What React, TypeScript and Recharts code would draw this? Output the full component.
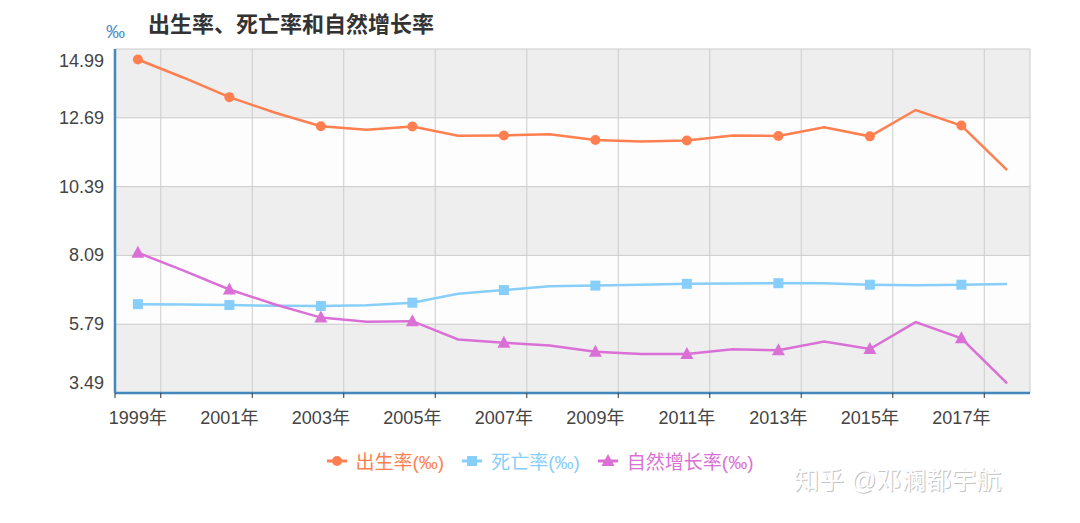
import React from 'react';
import {
  LineChart,
  Line,
  XAxis,
  YAxis,
  CartesianGrid,
  Legend,
} from 'recharts';

const years = [
  '1999', '2000', '2001', '2002', '2003', '2004', '2005', '2006', '2007', '2008',
  '2009', '2010', '2011', '2012', '2013', '2014', '2015', '2016', '2017', '2018',
];
const birthRate = [
  14.64, 14.03, 13.38, 12.86, 12.41, 12.29, 12.4, 12.09, 12.1, 12.14,
  11.95, 11.9, 11.93, 12.1, 12.08, 12.37, 12.07, 12.95, 12.43, 10.94,
];
const deathRate = [
  6.46, 6.45, 6.43, 6.41, 6.4, 6.42, 6.51, 6.81, 6.93, 7.06,
  7.08, 7.11, 7.14, 7.15, 7.16, 7.16, 7.11, 7.09, 7.11, 7.13,
];
const growthRate = [
  8.18, 7.58, 6.95, 6.45, 6.01, 5.87, 5.89, 5.28, 5.17, 5.08,
  4.87, 4.79, 4.79, 4.95, 4.92, 5.21, 4.96, 5.86, 5.32, 3.81,
];
const yTicks = [3.49, 5.79, 8.09, 10.39, 12.69, 14.99];

const series = [
  { key: 'birth', name: '出生率(‰)', color: '#ff7f50', shape: 'circle' },
  { key: 'death', name: '死亡率(‰)', color: '#87cefa', shape: 'square' },
  { key: 'growth', name: '自然增长率(‰)', color: '#da70d6', shape: 'triangle' },
];

const data = years.map((y, i) => ({
  year: y,
  birth: birthRate[i],
  death: deathRate[i],
  growth: growthRate[i],
}));

const W = 1080;
const H = 523;
const margin = { top: 49, right: 50, bottom: 100, left: 0 };
const yAxisWidth = 115;
const plotWidth = W - margin.left - margin.right - yAxisWidth;
const step = plotWidth / years.length;
const font = '"Liberation Sans", Arial, "Noto Sans CJK SC", sans-serif';
const axisBlue = '#4488bb';

function Marker({ shape, color, cx, cy }: { shape: string; color: string; cx: number; cy: number }) {
  if (shape === 'circle') return <circle cx={cx} cy={cy} r={5} fill={color} />;
  if (shape === 'square') return <rect x={cx - 5} y={cy - 5} width={10} height={10} fill={color} />;
  return (
    <polygon
      points={`${cx},${cy - 7} ${cx + 6.5},${cy + 5} ${cx - 6.5},${cy + 5}`}
      fill={color}
    />
  );
}

const makeDot = (shape: string, color: string) => (props: any) => {
  const { cx, cy, index } = props;
  if (index % 2 !== 0 || cx == null || cy == null) return <g key={`d-${index}`} />;
  return (
    <g key={`d-${index}`}>
      <Marker shape={shape} color={color} cx={cx} cy={cy} />
    </g>
  );
};

const XTick = (props: any) => {
  const { x, y, payload, index } = props;
  const axisY = y - 8;
  return (
    <g>
      <line x1={x + step / 2} x2={x + step / 2} y1={axisY} y2={axisY + 5} stroke="#333" strokeWidth={1} />
      {index === 0 && (
        <line x1={x - step / 2} x2={x - step / 2} y1={axisY} y2={axisY + 5} stroke="#333" strokeWidth={1} />
      )}
      <text x={x} y={y + 23} textAnchor="middle" fill="#444" fontSize={18} fontFamily={font}>
        {payload.value}年
      </text>
    </g>
  );
};

const YTick = (props: any) => {
  const { x, y, payload, index } = props;
  let shift = 0;
  if (index === 0) shift = -10;
  if (index === yTicks.length - 1) shift = 12;
  return (
    <text x={x - 3} y={y + shift + 6} textAnchor="end" fill="#444" fontSize={18} fontFamily={font}>
      {payload.value.toFixed(2)}
    </text>
  );
};

const LegendContent = () => (
  <div
    style={{
      display: 'flex',
      justifyContent: 'center',
      alignItems: 'center',
      gap: 18,
      fontFamily: font,
      fontSize: 19,
    }}
  >
    {series.map((s) => (
      <div key={s.key} style={{ display: 'flex', alignItems: 'center', gap: 9, color: s.color }}>
        <svg width={20} height={16}>
          <line x1={0} x2={20} y1={8} y2={8} stroke={s.color} strokeWidth={3} />
          <Marker shape={s.shape} color={s.color} cx={10} cy={8} />
        </svg>
        <span>{s.name}</span>
      </div>
    ))}
  </div>
);

export default function App() {
  return (
    <div style={{ position: 'absolute', left: 0, top: 0, width: W, height: H, background: '#fff' }}>
      <LineChart width={W} height={H} data={data} margin={margin}>
        <CartesianGrid
          stroke="#cccccc"
          horizontalFill={['#eeeeee', '#fdfdfd']}
          fillOpacity={1}
          verticalCoordinatesGenerator={({ offset }: any) => {
            const pts: number[] = [];
            const s = offset.width / years.length;
            for (let i = 1; i < years.length; i += 2) pts.push(offset.left + i * s);
            pts.push(offset.left + offset.width);
            return pts;
          }}
        />
        <XAxis
          dataKey="year"
          interval={1}
          padding={{ left: step / 2, right: step / 2 }}
          axisLine={{ stroke: axisBlue, strokeWidth: 2.5 }}
          tickLine={false}
          tick={<XTick />}
          height={30}
        />
        <YAxis
          type="number"
          domain={[3.49, 14.99]}
          ticks={yTicks}
          width={yAxisWidth}
          axisLine={{ stroke: axisBlue, strokeWidth: 2.5 }}
          tickLine={false}
          tick={<YTick />}
        />
        <Legend
          verticalAlign="middle"
          align="center"
          content={<LegendContent />}
          wrapperStyle={{ top: 447, left: 0, width: W }}
        />
        {series.map((s) => (
          <Line
            key={s.key}
            type="linear"
            dataKey={s.key}
            name={s.name}
            stroke={s.color}
            strokeWidth={2.5}
            dot={makeDot(s.shape, s.color)}
            activeDot={false}
            isAnimationActive={false}
          />
        ))}
      </LineChart>
      <svg
        width={W}
        height={H}
        style={{ position: 'absolute', left: 0, top: 0, pointerEvents: 'none' }}
      >
        <text x={106} y={38} fontSize={19} fill="#4a90c8" fontFamily={font}>
          ‰
        </text>
        <text x={148} y={32} fontSize={22} fontWeight="bold" fill="#333" fontFamily={font}>
          出生率、死亡率和自然增长率
        </text>
        <text x={795} y={490} fontSize={25} fill="#c4c4c4" fontFamily={font}>
          知乎 @邓澜都宇航
        </text>
        <text x={794} y={489} fontSize={25} fill="#fff" fontFamily={font}>
          知乎 @邓澜都宇航
        </text>
      </svg>
    </div>
  );
}
